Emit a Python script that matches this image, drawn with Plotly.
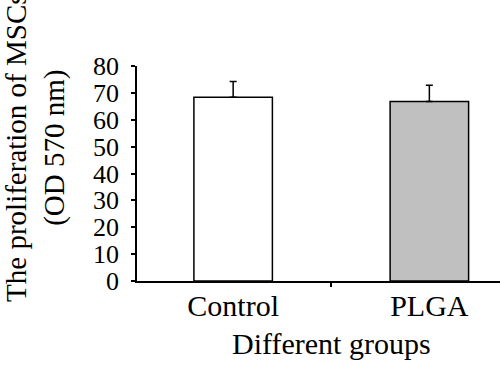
import plotly.graph_objects as go

categories = ["Control", "PLGA"]
values = [68.4, 66.8]
errors = [5.8, 6.0]
fill_colors = ["#ffffff", "#c0c0c0"]
y_ticks = [0, 10, 20, 30, 40, 50, 60, 70, 80]

FONT = "'Liberation Serif', 'Times New Roman', Times, serif"

fig = go.Figure()
fig.add_trace(go.Bar(
    x=categories, y=values, width=0.40,
    marker=dict(color=fill_colors, line=dict(color="#000000", width=1.5)),
    error_y=dict(type="data", array=errors, arrayminus=[0, 0], symmetric=False,
                 color="#000000", thickness=1.5, width=3.5),
    showlegend=False,
))

fig.update_layout(
    width=500, height=371,
    margin=dict(l=137, r=0, t=66, b=90),
    plot_bgcolor="white", paper_bgcolor="white",
    font=dict(family=FONT, color="#000000"),
    xaxis=dict(
        type="category", range=[-0.49, 1.36], tickson="boundaries",
        showline=True, linecolor="#000000", linewidth=1.5,
        ticks="outside", ticklen=4, tickcolor="#000000", tickwidth=1.5,
        tickfont=dict(family=FONT, size=30, color="#000000"),
        ticklabelstandoff=-3,
        showgrid=False, zeroline=False,
    ),
    yaxis=dict(
        range=[0, 80], tickvals=y_ticks,
        showline=True, linecolor="#000000", linewidth=1.5,
        ticks="outside", ticklen=4, tickcolor="#000000", tickwidth=1.5,
        tickfont=dict(family=FONT, size=26, color="#000000"),
        ticklabelstandoff=7,
        showgrid=False, zeroline=False,
    ),
    annotations=[
        dict(text="The proliferation of MSCs<br>(OD 570 nm)", textangle=-90,
             xref="paper", yref="paper", x=0, y=0.619, xanchor="center", yanchor="middle",
             xshift=-101, showarrow=False,
             font=dict(family=FONT, size=29, color="#000000")),
        dict(text="Different groups", xref="x", yref="paper", x=0.5, y=0,
             xanchor="center", yanchor="top", yshift=-44, showarrow=False,
             font=dict(family=FONT, size=30, color="#000000")),
    ],
)

fig.write_html("out.html", config={"displayModeBar": False},
               post_script="document.body.style.margin='0';")
